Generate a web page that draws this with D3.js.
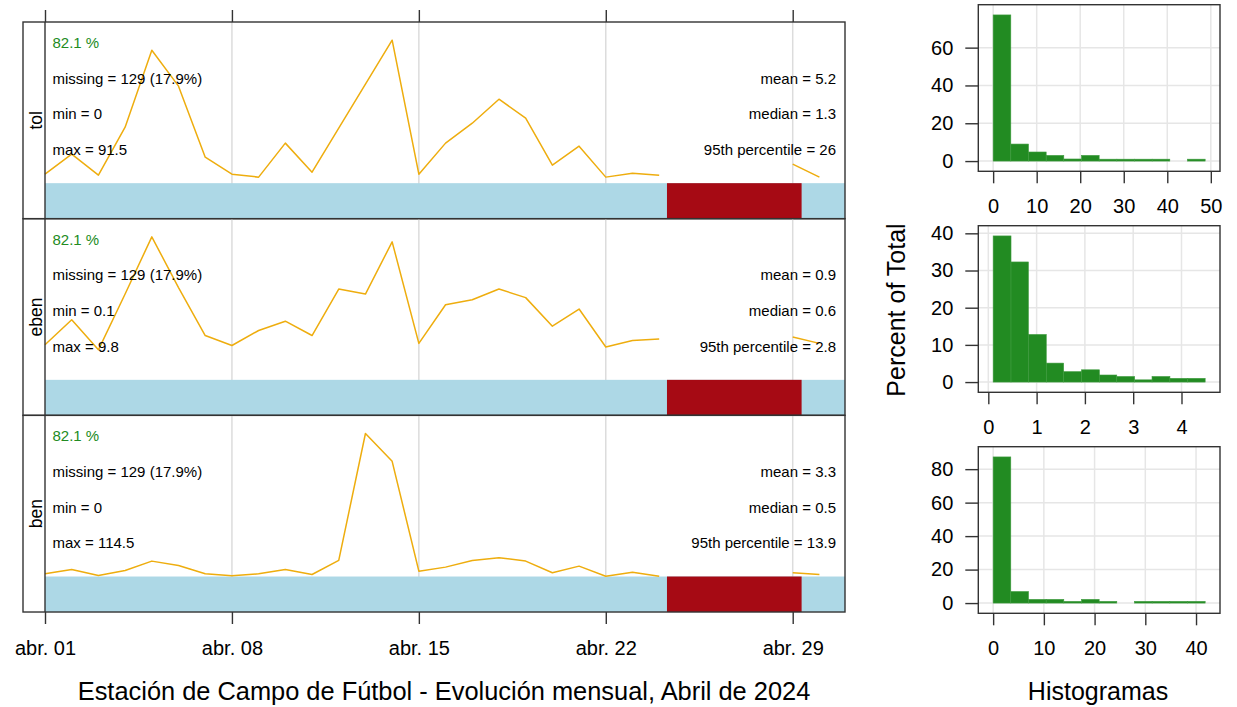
<!DOCTYPE html>
<html>
<head>
<meta charset="utf-8">
<script src="https://cdn.jsdelivr.net/npm/d3@7/dist/d3.min.js"></script>
<style>
  body { margin: 0; background: #fff; }
  svg text { font-family: "Liberation Sans", Arial, Helvetica, sans-serif; }
</style>
</head>
<body>
<svg id="chart" width="1237" height="707"></svg>
<script>
// ---------------- DATA ----------------
const days = ["2024-04-01","2024-04-02","2024-04-03","2024-04-04","2024-04-05","2024-04-06",
  "2024-04-07","2024-04-08","2024-04-09","2024-04-10","2024-04-11","2024-04-12","2024-04-13",
  "2024-04-14","2024-04-15","2024-04-16","2024-04-17","2024-04-18","2024-04-19","2024-04-20",
  "2024-04-21","2024-04-22","2024-04-23","2024-04-24","2024-04-25","2024-04-26","2024-04-27",
  "2024-04-28","2024-04-29","2024-04-30"];
const pollutants = ["tol", "eben", "ben"];
const tolDaily  = [1.13,3.65,1.01,7.05,16.74,12.21,3.27,1.13,0.76,5.04,1.38,6.92,12.46,18.0,1.13,
  5.04,7.55,10.57,8.18,2.27,4.66,0.76,1.26,1.01,null,null,null,null,2.39,0.76];
const ebenDaily = [0.49,0.84,0.42,1.20,2.00,1.29,0.62,0.48,0.69,0.82,0.62,1.27,1.20,1.93,0.51,
  1.05,1.12,1.27,1.15,0.75,0.99,0.46,0.55,0.57,null,null,null,null,0.60,0.51];
const benDaily  = [0.55,1.42,0.20,1.22,3.10,2.23,0.55,0.14,0.55,1.42,0.41,3.24,28.8,23.2,1.07,
  1.89,3.24,3.79,3.10,0.75,2.09,0.06,0.87,0.06,null,null,null,null,0.75,0.41];

const missingStart = ["2024-04-24T07:00:00Z"];
const missingEnd   = ["2024-04-29T08:00:00Z"];

const capturePct = [82.1, 82.1, 82.1];
const missingN   = [129, 129, 129];
const missingPct = [17.9, 17.9, 17.9];
const statMin    = ["0", "0.1", "0"];
const statMax    = ["91.5", "9.8", "114.5"];
const statMean   = ["5.2", "0.9", "3.3"];
const statMedian = ["1.3", "0.6", "0.5"];
const statP95    = ["26", "2.8", "13.9"];

const tickDates  = ["2024-04-01","2024-04-08","2024-04-15","2024-04-22","2024-04-29"];
const tickLabels = ["abr. 01","abr. 08","abr. 15","abr. 22","abr. 29"];

// histograms (percent of total)
const tolBreaks  = [0,4.06,8.12,12.18,16.23,20.29,24.35,28.41,32.47,36.53,40.58,44.64,48.7];
const tolPct     = [77.3,9.0,4.8,3.0,1.1,3.0,1.0,1.0,1.0,1.0,0,1.0];
const ebenBreaks = [0.10,0.47,0.83,1.20,1.56,1.93,2.30,2.66,3.03,3.39,3.76,4.13,4.49];
const ebenPct    = [39.3,32.3,12.8,5.1,2.8,3.3,1.9,1.5,0.6,1.5,1.0,1.0];
const benBreaks  = [0,3.48,6.97,10.45,13.93,17.42,20.9,24.38,27.87,31.35,34.83,38.32,41.8];
const benPct     = [87.3,6.9,2.2,2.2,1.0,2.2,1.0,0,1.0,1.0,1.0,1.0];

const tolXTicks  = [0,10,20,30,40,50];
const ebenXTicks = [0,1,2,3,4];
const benXTicks  = [0,10,20,30,40];
const tolYTicks  = [0,20,40,60];
const ebenYTicks = [0,10,20,30,40];
const benYTicks  = [0,20,40,60,80];

const titleText = "Estación de Campo de Fútbol - Evolución mensual, Abril de 2024";
const histTitle = "Histogramas";
const histYLab  = "Percent of Total";

// ---------------- DRAW ----------------
const svg = d3.select("#chart");
const dailyValues = [tolDaily, ebenDaily, benDaily];
const histBreaks = [tolBreaks, ebenBreaks, benBreaks];
const histPct = [tolPct, ebenPct, benPct];
const histXTicks = [tolXTicks, ebenXTicks, benXTicks];
const histYTicks = [tolYTicks, ebenYTicks, benYTicks];

const FRAME = "#333";
const dates = days.map(d => new Date(d + "T00:00:00Z"));
const stripX = 23, plotX0 = 45, plotX1 = 845;
const panelTop0 = 22, panelH = 196.67, barH = 35.5, lineH = 143;

const x = d3.scaleUtc()
  .domain([new Date("2024-04-01T00:00:00Z"), new Date("2024-04-30T23:00:00Z")])
  .range([plotX0, plotX1]);
const tDates = tickDates.map(d => new Date(d + "T00:00:00Z"));

pollutants.forEach((p, i) => {
  const top = panelTop0 + i * panelH, bot = top + panelH, barTop = bot - barH;
  const vals = dailyValues[i];
  const y = d3.scaleLinear().domain([0, d3.max(vals)]).range([barTop, barTop - lineH]);
  const g = svg.append("g");

  // grid lines
  g.selectAll("line.grid").data(tDates.slice(1)).join("line")
    .attr("x1", d => x(d)).attr("x2", d => x(d))
    .attr("y1", top).attr("y2", bot)
    .attr("stroke", "#DCDCDC").attr("stroke-width", 1.5);

  // data availability bar
  g.append("rect").attr("x", plotX0).attr("y", barTop)
    .attr("width", plotX1 - plotX0).attr("height", barH).attr("fill", "#ADD8E6");
  g.selectAll("rect.mis").data(missingStart).join("rect")
    .attr("x", (d, k) => x(new Date(d)))
    .attr("width", (d, k) => x(new Date(missingEnd[k])) - x(new Date(d)))
    .attr("y", barTop).attr("height", barH)
    .attr("fill", "#A60A14");

  // trend line
  const line = d3.line().defined(d => d != null)
    .x((d, j) => x(dates[j])).y(d => y(d));
  g.append("path").datum(vals).attr("d", line)
    .attr("fill", "none").attr("stroke", "#EEAD0E").attr("stroke-width", 1.5)
    .attr("stroke-linejoin", "round");

  // stats text
  const rows = [26, 61.7, 97.4, 133.1];
  const fs = 15;
  g.append("text").attr("x", 52.5).attr("y", top + rows[0]).attr("font-size", fs)
    .attr("fill", "#228B22").text(capturePct[i] + " %");
  g.append("text").attr("x", 52.5).attr("y", top + rows[1]).attr("font-size", fs)
    .text("missing = " + missingN[i] + " (" + missingPct[i] + "%)");
  g.append("text").attr("x", 52.5).attr("y", top + rows[2]).attr("font-size", fs)
    .text("min = " + statMin[i]);
  g.append("text").attr("x", 52.5).attr("y", top + rows[3]).attr("font-size", fs)
    .text("max = " + statMax[i]);
  g.append("text").attr("x", 836).attr("y", top + rows[1]).attr("font-size", fs)
    .attr("text-anchor", "end").text("mean = " + statMean[i]);
  g.append("text").attr("x", 836).attr("y", top + rows[2]).attr("font-size", fs)
    .attr("text-anchor", "end").text("median = " + statMedian[i]);
  g.append("text").attr("x", 836).attr("y", top + rows[3]).attr("font-size", fs)
    .attr("text-anchor", "end").text("95th percentile = " + statP95[i]);

  // strip label
  const cy = (top + bot) / 2;
  g.append("text").attr("transform", `translate(41.5,${cy}) rotate(-90)`)
    .attr("text-anchor", "middle").attr("font-size", 17.5).text(p);

  // frame
  g.append("rect").attr("x", stripX).attr("y", top)
    .attr("width", plotX1 - stripX).attr("height", panelH)
    .attr("fill", "none").attr("stroke", FRAME).attr("stroke-width", 1.4);
  g.append("line").attr("x1", plotX0).attr("x2", plotX0).attr("y1", top).attr("y2", bot)
    .attr("stroke", FRAME).attr("stroke-width", 1.4);
});

// time axes
const leftBottom = panelTop0 + 3 * panelH;
const axB = d3.axisBottom(x).tickValues(tDates).tickFormat((d, k) => tickLabels[k])
  .tickSize(12).tickSizeOuter(0).tickPadding(17);
const gB = svg.append("g").attr("transform", `translate(0,${leftBottom})`).call(axB);
const axT = d3.axisTop(x).tickValues(tDates).tickFormat("").tickSize(12).tickSizeOuter(0);
const gT = svg.append("g").attr("transform", `translate(0,${panelTop0})`).call(axT);
[gB, gT].forEach(ga => {
  ga.select(".domain").remove();
  ga.selectAll(".tick line").attr("stroke", FRAME).attr("stroke-width", 1.4);
  ga.selectAll(".tick text").attr("font-size", 20).attr("fill", "#000")
    .attr("font-family", '"Liberation Sans", Arial, sans-serif');
});

svg.append("text").attr("x", 444).attr("y", 700).attr("text-anchor", "middle")
  .attr("font-size", 25.4).text(titleText);

// ---------------- HISTOGRAMS ----------------
const hx0 = 978.3, hx1 = 1220, hTops = [4.7, 225.7, 446.7], hH = 166.6;
pollutants.forEach((p, i) => {
  const br = histBreaks[i], pc = histPct[i];
  const top = hTops[i], bot = top + hH;
  const R = br[br.length - 1] - br[0];
  const hx = d3.scaleLinear().domain([br[0] - 0.07 * R, br[br.length - 1] + 0.07 * R]).range([hx0, hx1]);
  const ym = d3.max(pc);
  const hy = d3.scaleLinear().domain([-0.07 * ym, 1.07 * ym]).range([bot, top]);
  const g = svg.append("g");

  // grid
  g.selectAll("line.gx").data(histXTicks[i]).join("line")
    .attr("x1", d => hx(d)).attr("x2", d => hx(d)).attr("y1", top).attr("y2", bot)
    .attr("stroke", "#E6E6E6").attr("stroke-width", 1.5);
  g.selectAll("line.gy").data(histYTicks[i]).join("line")
    .attr("x1", hx0).attr("x2", hx1).attr("y1", d => hy(d)).attr("y2", d => hy(d))
    .attr("stroke", "#E6E6E6").attr("stroke-width", 1.5);

  // bars
  g.selectAll("rect.bar").data(pc).join("rect")
    .attr("x", (d, k) => hx(br[k])).attr("width", (d, k) => hx(br[k + 1]) - hx(br[k]))
    .attr("y", d => hy(d)).attr("height", d => d > 0 ? hy(0) - hy(d) : 0)
    .attr("fill", "#228B22").attr("stroke", "#3E9B3E").attr("stroke-width", 0.6);

  // frame
  g.append("rect").attr("x", hx0).attr("y", top).attr("width", hx1 - hx0).attr("height", hH)
    .attr("fill", "none").attr("stroke", FRAME).attr("stroke-width", 1.4);

  const axX = d3.axisBottom(hx).tickValues(histXTicks[i]).tickFormat(d => String(d))
    .tickSize(12).tickSizeOuter(0).tickPadding(16);
  const axY = d3.axisLeft(hy).tickValues(histYTicks[i]).tickFormat(d => String(d))
    .tickSize(13).tickSizeOuter(0).tickPadding(12);
  const gx = g.append("g").attr("transform", `translate(0,${bot})`).call(axX);
  const gy = g.append("g").attr("transform", `translate(${hx0},0)`).call(axY);
  [gx, gy].forEach(ga => {
    ga.select(".domain").remove();
    ga.selectAll(".tick line").attr("stroke", FRAME).attr("stroke-width", 1.4);
    ga.selectAll(".tick text").attr("font-size", 20).attr("fill", "#000")
      .attr("font-family", '"Liberation Sans", Arial, sans-serif');
  });
});

svg.append("text").attr("transform", "translate(905,310) rotate(-90)")
  .attr("text-anchor", "middle").attr("font-size", 25).text(histYLab);
svg.append("text").attr("x", 1098).attr("y", 700).attr("text-anchor", "middle")
  .attr("font-size", 25).text(histTitle);
</script>
</body>
</html>
